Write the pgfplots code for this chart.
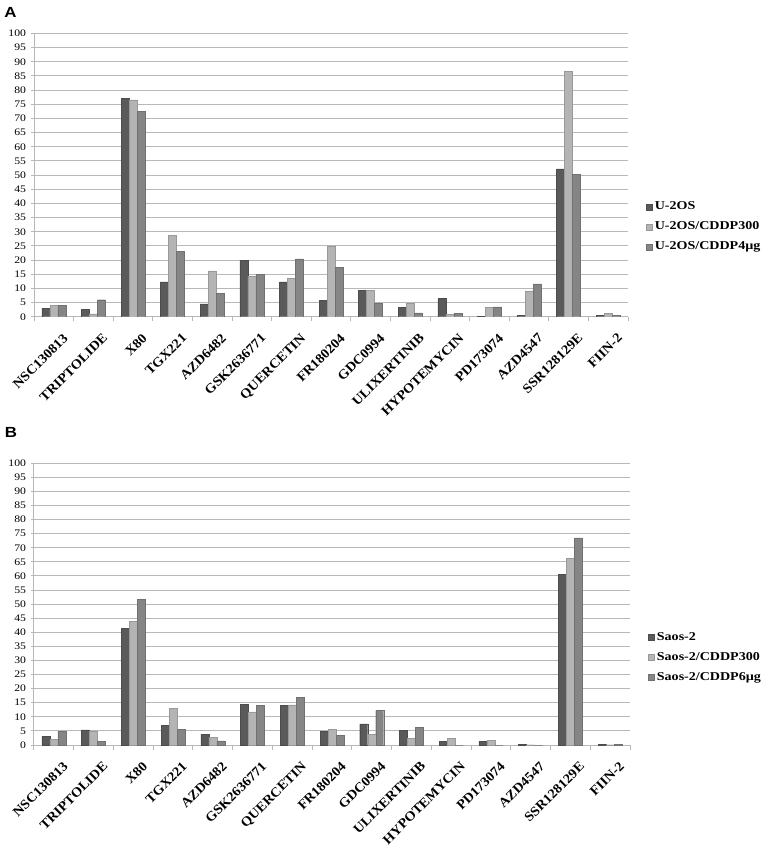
\documentclass[border=0pt]{standalone}
\usepackage{fontspec}
\setmainfont{Liberation Serif}[FakeStretch=1.17]
\newfontfamily\labfont{Liberation Serif}[FakeStretch=1.07]
\newfontfamily\headfont{Liberation Sans}[FakeStretch=1.15]
\usepackage{pgfplots}
\usepackage{pgfplotstable}
\pgfplotsset{compat=1.18}
\definecolor{cA}{HTML}{5A5A5A}
\definecolor{cB}{HTML}{B4B4B4}
\definecolor{cC}{HTML}{858585}
\definecolor{gridc}{HTML}{B8B8B8}

\pgfplotstableread{
x a b c
0 3.0 4.0 4.0
1 2.5 1.0 6.0
2 77.0 76.5 72.5
3 12.3 28.7 23.0
4 4.5 16.2 8.3
5 20.0 14.3 15.0
6 12.3 13.6 20.4
7 5.8 25.0 17.5
8 9.4 9.2 4.8
9 3.2 4.8 1.4
10 6.4 0.9 1.2
11 0.1 3.3 3.5
12 0.6 9.1 11.6
13 52.2 86.6 50.2
14 0.4 1.2 0.5
}\dataA

\pgfplotstableread{
x a b c
0 3.0 1.9 4.8
1 5.4 4.8 1.3
2 41.3 43.8 51.7
3 7.0 12.9 5.6
4 3.9 2.6 1.5
5 14.4 11.8 14.0
6 14.0 14.2 16.9
7 4.9 5.6 3.4
8 7.5 3.7 12.2
9 5.3 2.4 6.2
10 1.2 2.4 0
11 1.3 1.7 0
12 0.35 0.1 0
13 60.5 66.3 73.5
14 0.35 0.1 0.35
}\dataB

\pgfplotsset{
  panel/.style={
    scale only axis,
    xmin=-0.5, xmax=14.5, ymin=0, ymax=100,
    ytick={0,5,...,100},
    ymajorgrids,
    grid style={draw=gridc, line width=0.75pt},
    xtick={0,...,14},
    xticklabels={NSC130813,TRIPTOLIDE,X80,TGX221,AZD6482,GSK2636771,QUERCETIN,FR180204,GDC0994,ULIXERTINIB,HYPOTEMYCIN,PD173074,AZD4547,SSR128129E,FIIN-2},
    major x tick style={draw=none},
    minor xtick={-0.5,0.5,...,14.5},
    minor x tick style={draw=gridc, line width=0.75pt},
    minor tick length=3.5pt,
    major tick length=2.5pt,
    y tick style={draw=gridc, line width=0.75pt},
    tick align=outside,
    axis x line*=bottom, axis y line*=left,
    axis line style={draw=gridc, line width=0.75pt, -},
    ybar=0pt, bar width=6pt,
    /pgf/number format/assume math mode=true,
    yticklabel style={font=\fontsize{7.5}{8}\selectfont, xshift=0pt},
    xticklabel style={rotate=45, anchor=north east, inner sep=1pt, font=\labfont\fontsize{10}{11}\selectfont\bfseries, yshift=-10pt, xshift=-1pt},
    legend style={draw=none, fill=none, font=\fontsize{9}{10}\selectfont\bfseries, row sep=3.5pt},
    legend cell align=left,
    legend image code/.code={\fill[##1] (0pt,-2.2pt) rectangle (4.4pt,2.2pt);},
  },
  sA/.style={fill=cA, draw=cA!85!black, line width=0.3pt},
  sB/.style={fill=cB, draw=cB!85!black, line width=0.3pt},
  sC/.style={fill=cC, draw=cC!85!black, line width=0.3pt},
}

\begin{document}
\begin{tikzpicture}
\useasboundingbox (0,0) rectangle (573.75pt,635.25pt);
\node[anchor=base west, inner sep=0pt, font=\headfont\bfseries\fontsize{11}{11}\selectfont] at (3pt,621.75pt) {A};
\node[anchor=base west, inner sep=0pt, font=\headfont\bfseries\fontsize{11}{11}\selectfont] at (3.5pt,306.75pt) {B};

\begin{axis}[panel, at={(25.5pt,397.7pt)}, anchor=south west, width=445.5pt, height=212.5pt,
  legend style={at={(1.023,0.317)}, anchor=west}]
\addplot[sA] table[x=x, y=a] {\dataA};
\addplot[sB] table[x=x, y=b] {\dataA};
\addplot[sC] table[x=x, y=c] {\dataA};
\legend{U-2OS, U-2OS/CDDP300, U-2OS/CDDP4µg}
\end{axis}

\begin{axis}[panel, at={(25.5pt,76.5pt)}, anchor=south west, width=447pt, height=211.3pt,
  legend style={at={(1.023,0.312)}, anchor=west}]
\addplot[sA] table[x=x, y=a] {\dataB};
\addplot[sB] table[x=x, y=b] {\dataB};
\addplot[sC] table[x=x, y=c] {\dataB};
\legend{Saos-2, Saos-2/CDDP300, Saos-2/CDDP6µg}
\end{axis}
\end{tikzpicture}
\end{document}
